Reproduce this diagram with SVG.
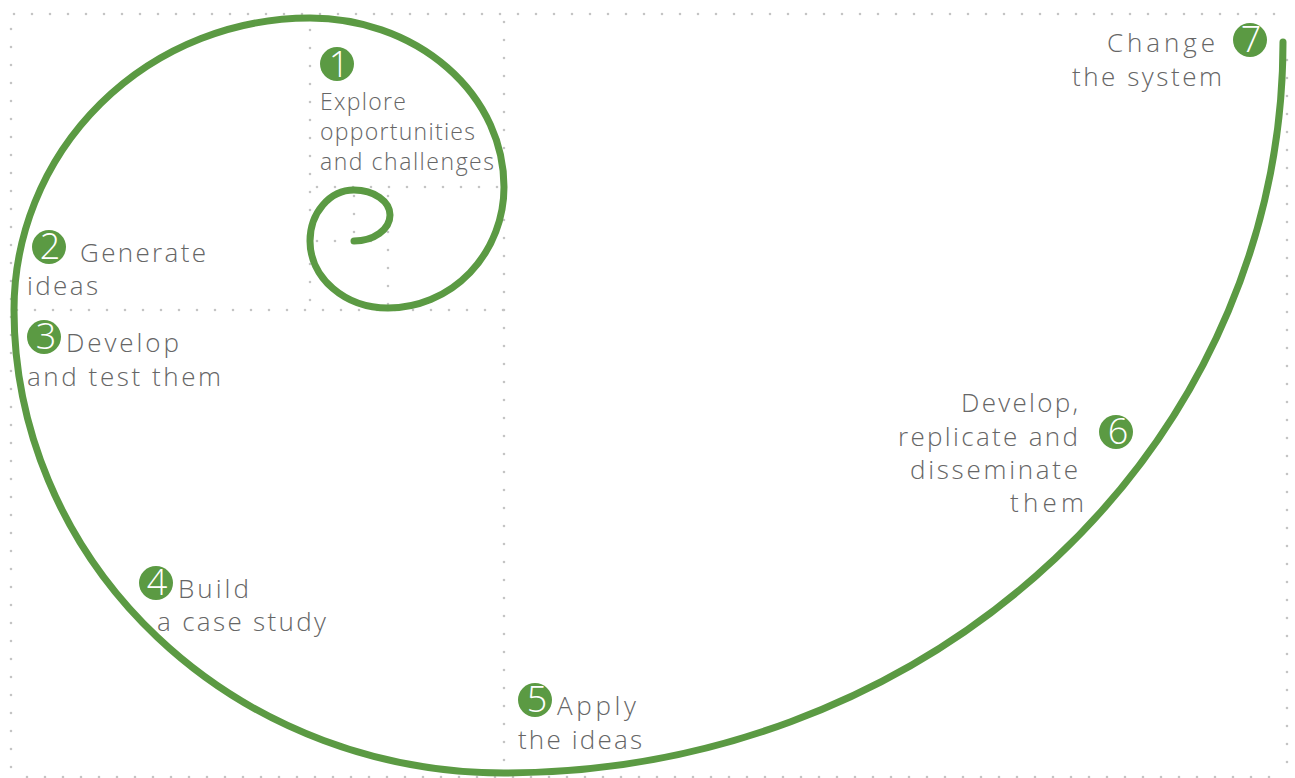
<svg xmlns="http://www.w3.org/2000/svg" width="1295" height="778" viewBox="0 0 1295 778">
<style>
.dot{fill:none;stroke:#c4c4c4;stroke-width:2.6;stroke-linecap:round;stroke-dasharray:0 18}
.sp{fill:none;stroke:#5b9a43;stroke-width:7;stroke-linecap:round}
.c{fill:#5b9a43}
.n{fill:#fff;font-family:"Open Sans","Liberation Sans",sans-serif;font-weight:300;font-size:36px;text-anchor:middle}
.t{fill:#666;font-family:"Open Sans","Liberation Sans",sans-serif;font-weight:300;font-size:26px}
.s{font-size:23px}
</style>
<rect width="1295" height="778" fill="#fff"/>
<g id="grid">
<path class="dot" d="M14 14H1285"/>
<path class="dot" d="M11 29V775"/>
<path class="dot" d="M27 777H1285"/>
<path class="dot" d="M1287 60V777"/>
<path class="dot" d="M504 22V775"/>
<path class="dot" d="M17 310H504"/>
<path class="dot" d="M310 30V310"/>
<path class="dot" d="M317 187H504"/>
<path class="dot" d="M388 196V310"/>
<path class="dot" d="M317 241H388"/>
<path class="dot" d="M354 196V241"/>
</g>
<g id="connectors">
<path class="sp" d="M1283 42 A779 731 0 0 1 504 773 A490 463 0 0 1 14 310 A296 292 0 0 1 310 18 A194 169 0 0 1 504 187 A116 121 0 0 1 388 308 A78 67 0 0 1 310 241 A44 51 0 0 1 354 190 A36 25 0 0 1 390 215 A36 26 0 0 1 354 241"/>
</g>
<g id="step1">
<circle class="c" cx="337" cy="64" r="17"/>
<text class="n" x="339" y="77">1</text>
<text class="t s" x="320" y="110" textLength="86" lengthAdjust="spacing">Explore</text>
<text class="t s" x="320" y="140" textLength="155" lengthAdjust="spacing">opportunities</text>
<text class="t s" x="320" y="170" textLength="174" lengthAdjust="spacing">and challenges</text>
</g>
<g id="step2">
<circle class="c" cx="49" cy="247" r="17"/>
<text class="n" x="50" y="259">2</text>
<text class="t" x="80" y="262" textLength="126" lengthAdjust="spacing">Generate</text>
<text class="t" x="27" y="295" textLength="71" lengthAdjust="spacing">ideas</text>
</g>
<g id="step3">
<circle class="c" cx="44" cy="337" r="17"/>
<text class="n" x="46" y="349">3</text>
<text class="t" x="66" y="352" textLength="113" lengthAdjust="spacing">Develop</text>
<text class="t" x="27" y="386" textLength="194" lengthAdjust="spacing">and test them</text>
</g>
<g id="step4">
<circle class="c" cx="156" cy="583" r="17"/>
<text class="n" x="157" y="595">4</text>
<text class="t" x="178" y="598" textLength="71" lengthAdjust="spacing">Build</text>
<text class="t" x="157" y="631" textLength="169" lengthAdjust="spacing">a case study</text>
</g>
<g id="step5">
<circle class="c" cx="535" cy="700" r="17"/>
<text class="n" x="537" y="712">5</text>
<text class="t" x="557" y="715" textLength="79" lengthAdjust="spacing">Apply</text>
<text class="t" x="518" y="749" textLength="124" lengthAdjust="spacing">the ideas</text>
</g>
<g id="step6">
<circle class="c" cx="1116" cy="432" r="17"/>
<text class="n" x="1118" y="444">6</text>
<text class="t" x="961" y="412" textLength="117" lengthAdjust="spacing">Develop,</text>
<text class="t" x="898" y="446" textLength="180" lengthAdjust="spacing">replicate and</text>
<text class="t" x="910" y="479" textLength="168" lengthAdjust="spacing">disseminate</text>
<text class="t" x="1010" y="512" textLength="74" lengthAdjust="spacing">them</text>
</g>
<g id="step7">
<circle class="c" cx="1250" cy="40" r="17"/>
<text class="n" x="1251" y="52">7</text>
<text class="t" x="1107" y="52" textLength="108" lengthAdjust="spacing">Change</text>
<text class="t" x="1072" y="86" textLength="150" lengthAdjust="spacing">the system</text>
</g>
</svg>
